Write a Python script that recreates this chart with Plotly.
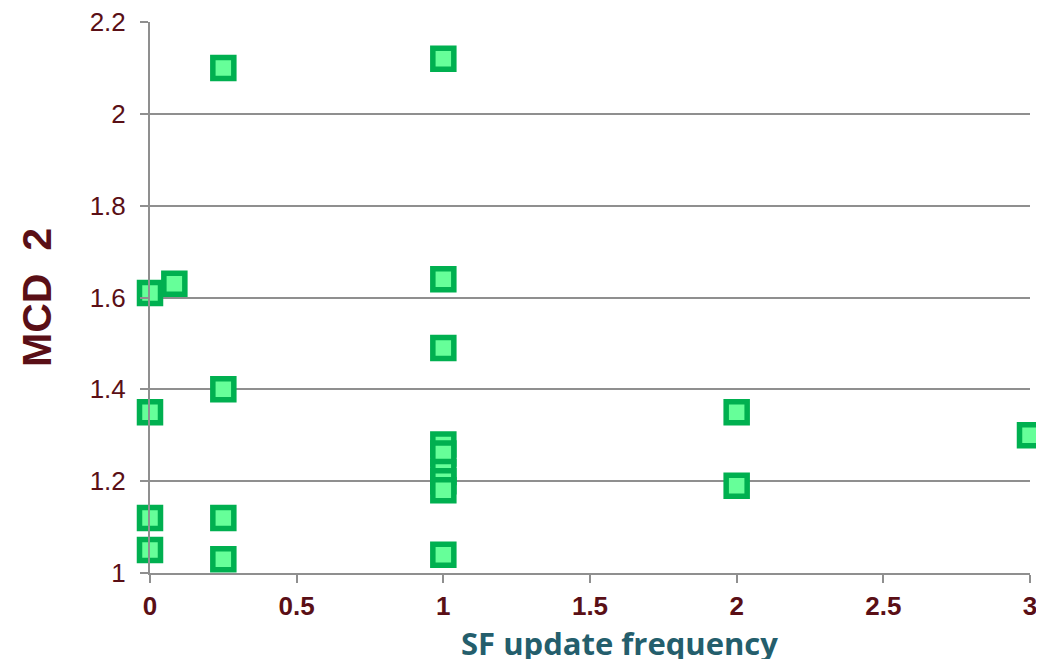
import plotly.graph_objects as go

# SF update frequency vs MCD 2
sf_freq = [0.25, 1, 0.083, 0, 1, 1, 0.25, 0, 2, 3,
           1, 1, 1, 1, 1, 2, 0, 0.25, 0, 0.25, 1]
mcd2 = [2.10, 2.12, 1.63, 1.61, 1.64, 1.49, 1.40, 1.35, 1.35, 1.30,
        1.28, 1.26, 1.22, 1.20, 1.18, 1.19, 1.12, 1.12, 1.05, 1.03, 1.04]

x_ticks = [0, 0.5, 1, 1.5, 2, 2.5, 3]
y_ticks = [1, 1.2, 1.4, 1.6, 1.8, 2, 2.2]

rojo = "#5a0f16"
gris = "#8f8f8f"

fig = go.Figure(
    go.Scatter(
        x=sf_freq,
        y=mcd2,
        mode="markers",
        cliponaxis=False,
        marker=dict(
            symbol="square",
            size=21,
            color="#66ff99",
            line=dict(color="#00b050", width=5.5),
        ),
        showlegend=False,
    )
)

# el body de la página mete 8px de margen, se descuenta aquí
fig.update_layout(
    width=1044,
    height=659,
    plot_bgcolor="white",
    paper_bgcolor="white",
    margin=dict(l=142, r=22, t=14, b=94),
    font=dict(family="Liberation Sans, Arial", color=rojo),
)

fig.update_xaxes(
    range=[0, 3],
    tickvals=x_ticks,
    ticktext=[f"{v:g}" for v in x_ticks],
    tickfont=dict(size=26, color=rojo, weight="bold"),
    ticklabelstandoff=1,
    ticklabeloverflow="allow",
    automargin=False,
    showgrid=False,
    zeroline=False,
    showline=True,
    linecolor=gris,
    linewidth=2,
    ticks="outside",
    ticklen=8,
    tickcolor=gris,
    tickwidth=2,
)

fig.update_yaxes(
    range=[1, 2.2],
    tickvals=y_ticks,
    ticktext=[f"{v:g}" for v in y_ticks],
    tickfont=dict(size=26, color=rojo),
    ticklabelstandoff=9,
    ticklabeloverflow="allow",
    automargin=False,
    showgrid=True,
    gridcolor=gris,
    gridwidth=2,
    zeroline=False,
    showline=True,
    linecolor=gris,
    linewidth=2,
    ticks="outside",
    ticklen=8,
    tickcolor=gris,
    tickwidth=2,
    title=dict(
        text="<b>MCD  2</b>",
        font=dict(size=41, color=rojo),
        standoff=25,
    ),
)

# título del eje x, algo desplazado a la derecha como en el original
fig.add_annotation(
    text="<b>SF update frequency</b>",
    xref="paper", yref="paper",
    x=0.534, y=-0.086,
    xanchor="center", yanchor="top",
    showarrow=False,
    font=dict(size=31, family="Open Sans", color="#245e6c"),
)

fig.write_html("out.html")
